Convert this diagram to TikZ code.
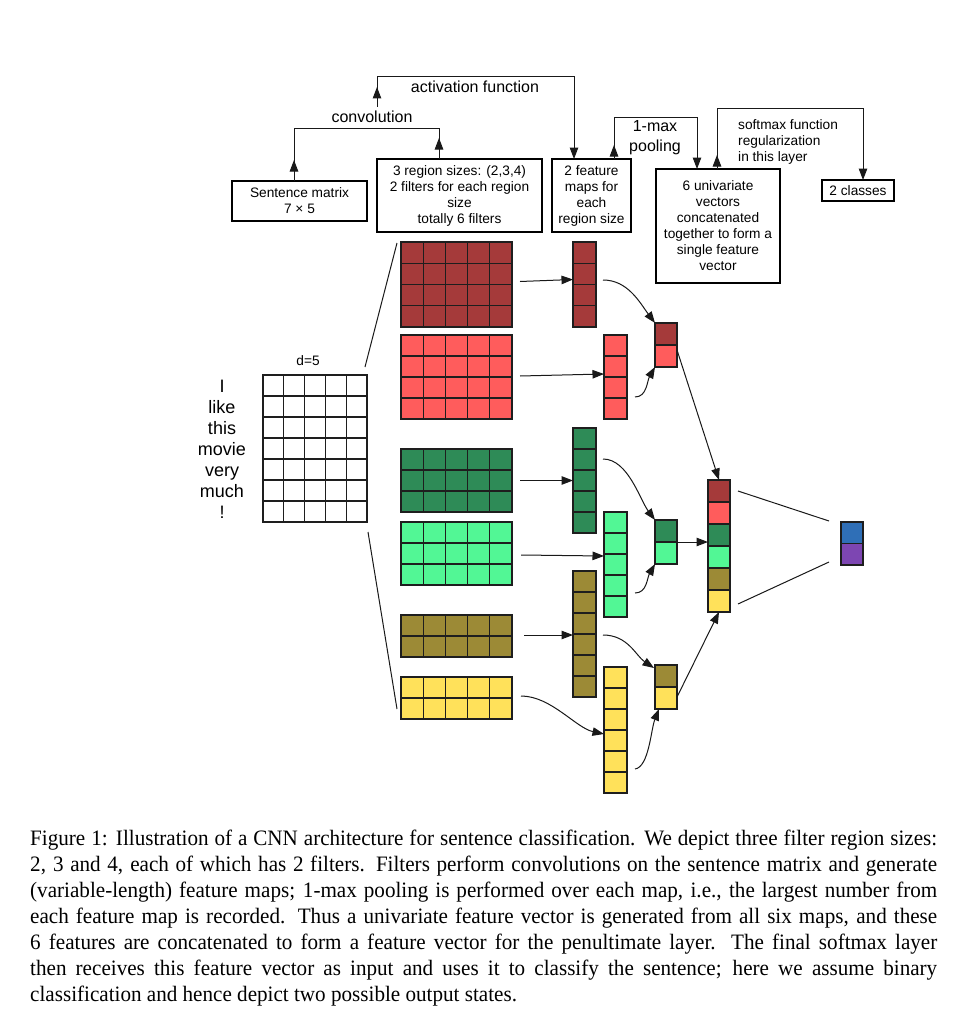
\documentclass[tikz,border=0pt]{standalone}
\usepackage{fontspec}
\setmainfont{Liberation Sans}
\newfontfamily\capfont[FakeStretch=0.96]{Liberation Serif}
\usetikzlibrary{arrows.meta,calc}
\definecolor{gridc}{HTML}{1E1E1E}
\definecolor{cdred}{HTML}{A53A3A}
\definecolor{cred}{HTML}{FF5C5C}
\definecolor{cdgreen}{HTML}{2E8B57}
\definecolor{clgreen}{HTML}{52F795}
\definecolor{colive}{HTML}{9C8A36}
\definecolor{cyellow}{HTML}{FFE15A}
\definecolor{cblue}{HTML}{2F6FB7}
\definecolor{cpurple}{HTML}{7D46B2}
\tikzset{
 cellbox/.style={draw=gridc, line width=1.3pt, inner sep=0pt, outer sep=0pt, anchor=north west},
 gline/.style={draw=gridc, line width=1.3pt},
 lbox/.style={draw=black, line width=1.1pt, inner sep=0pt, outer sep=0pt, align=center, font=\fontsize{13.7}{16}\selectfont},
 conn/.style={draw=black!90, line width=1pt},
 arr/.style={conn, -{Triangle[length=11.5pt,width=8.5pt]}},
 lbl/.style={inner sep=0pt, font=\fontsize{16}{20}\selectfont},
 capline/.style={inner sep=0pt, anchor=base west, font=\capfont\fontsize{22}{26}\selectfont},
}
\newcommand\cnnblock[8]{%
 \node[cellbox, fill=#8, minimum width={#4*#6pt}, minimum height={#5*#7pt}] (#1) at (#2,#3) {};
 \pgfmathtruncatemacro\ncm{#4-1}%
 \ifnum\ncm>0 \foreach \i in {1,...,\ncm}{\draw[gline] ($(#1.north west)+(\i*#6,0)$) -- ($(#1.south west)+(\i*#6,0)$);}\fi
 \pgfmathtruncatemacro\nrm{#5-1}%
 \ifnum\nrm>0 \foreach \j in {1,...,\nrm}{\draw[gline] ($(#1.north west)+(0,\j*#7)$) -- ($(#1.north east)+(0,\j*#7)$);}\fi
}
\begin{document}
\begin{tikzpicture}[x=1pt,y=-1pt]
\useasboundingbox (0,0) rectangle (978,1014);
\fill[white] (0,0) rectangle (978,1014);

% ---- top boxes
\node[lbox, minimum width=135pt, minimum height=40pt] (sent) at (299.5,201) {Sentence matrix\\7 × 5};
\node[lbox, minimum width=165pt, minimum height=73pt] (reg) at (459.5,195.5) {3 region sizes: (2,3,4)\\2 filters for each region\\size\\totally 6 filters};
\node[lbox, minimum width=79pt, minimum height=73pt] (feat) at (591.5,195.5) {2 feature\\maps for\\each\\region size};
\node[lbox, minimum width=124pt, minimum height=114pt] (univ) at (718,226) {6 univariate\\vectors\\concatenated\\together to form a\\single feature\\vector};
\node[lbox, minimum width=72pt, minimum height=21pt] (cls) at (858,190.5) {2 classes};

% ---- top connectors
\coordinate (cvL) at (294,129); \coordinate (cvR) at (439,129);
\draw[conn] (sent.north -| cvL) -- (cvL) -- (cvR) -- (reg.north -| cvR);
\draw[arr] (sent.north -| cvL) -- ++(0,-21);
\draw[arr] (reg.north -| cvR) -- ++(0,-21);
\node[lbl] (lconv) at (372,117) {convolution};

\coordinate (acB) at (377,107); \coordinate (acL) at (377,77); \coordinate (acR) at (574,77);
\draw[arr] (acB) -- (acL) -- (acR) -- (feat.north -| acR);
\draw[arr] (acB) -- ++(0,-20);
\node[lbl] (lact) at (475,87) {activation function};

\coordinate (mpL) at (614,118); \coordinate (mpR) at (697,118);
\draw[arr] (feat.north -| mpL) -- (mpL) -- (mpR) -- (univ.north -| mpR);
\draw[arr] (feat.north -| mpL) -- ++(0,-14);
\node[lbl, align=center] (lmax) at (655,138) {1-max\\pooling};

\coordinate (sfL) at (717,109); \coordinate (sfR) at (863,109);
\draw[arr] (univ.north -| sfL) -- (sfL) -- (sfR) -- (cls.north -| sfR);
\draw[arr] (univ.north -| sfL) -- ++(0,-14);
\node[inner sep=0pt, align=left, anchor=west, font=\fontsize{13.7}{16}\selectfont] (lsoft) at (738,142) {softmax function\\regularization\\in this layer};

% ---- sentence matrix
\node[inner sep=0pt, align=center, font=\fontsize{18}{20.9}\selectfont] (words) at (222,449.5) {I\\like\\this\\movie\\very\\much\\!};
\node[inner sep=0pt, font=\fontsize{13.7}{16}\selectfont] (dlab) at (308,361) {d=5};
\cnnblock{sm}{263}{375}{5}{7}{20.8}{21}{white}

% ---- filters
\cnnblock{f1}{401}{242}{5}{4}{22.2}{21.25}{cdred}
\cnnblock{f2}{401}{335}{5}{4}{22.2}{21}{cred}
\cnnblock{f3}{401}{449}{5}{3}{22.2}{21}{cdgreen}
\cnnblock{f4}{401}{522}{5}{3}{22.2}{21}{clgreen}
\cnnblock{f5}{401}{615}{5}{2}{22.2}{21}{colive}
\cnnblock{f6}{401}{677}{5}{2}{22.2}{21}{cyellow}

\draw[conn] ($(sm.north east)+(-2,-8)$) -- ($(f1.north west)+(-4,1)$);
\draw[conn] ($(sm.south east)+(1,10)$) -- ($(f6.south west)+(-4,-10)$);

% ---- feature maps
\cnnblock{m1}{573}{242}{1}{4}{23}{21.25}{cdred}
\cnnblock{m2}{604}{335}{1}{4}{23}{21}{cred}
\cnnblock{m3}{573}{428}{1}{5}{23}{21}{cdgreen}
\cnnblock{m4}{604}{512}{1}{5}{23}{21}{clgreen}
\cnnblock{m5}{573}{571}{1}{6}{23}{21}{colive}
\cnnblock{m6}{604}{667}{1}{6}{23}{21}{cyellow}

\draw[arr] ($(f1.east)+(8,-3)$) -- ($(m1.west)+(0,-5)$);
\draw[arr] ($(f2.east)+(8,-1)$) -- ($(m2.west)+(0,-3)$);
\draw[arr] ($(f3.east)+(8,0)$) -- (m3.west);
\draw[arr] ($(f4.east)+(9,1.5)$) -- ($(m4.west)+(0,-8.5)$);
\draw[arr] ($(f5.east)+(12,-1)$) -- ($(m5.west)+(0,1)$);
\draw[arr] ($(f6.east)+(9,-2)$) .. controls +(30,0) and +(-28,-6) .. ($(m6.west)+(0,4)$);

% ---- pooled
\node[cellbox, fill=cdred, minimum width=22pt, minimum height=22pt] (p1a) at (655,323) {};
\node[cellbox, fill=cred, minimum width=22pt, minimum height=22pt] (p1b) at (655,345) {};
\node[cellbox, fill=cdgreen, minimum width=22pt, minimum height=22pt] (p2a) at (655,520) {};
\node[cellbox, fill=clgreen, minimum width=22pt, minimum height=22pt] (p2b) at (655,542) {};
\node[cellbox, fill=colive, minimum width=22pt, minimum height=22pt] (p3a) at (655,665) {};
\node[cellbox, fill=cyellow, minimum width=22pt, minimum height=22pt] (p3b) at (655,687) {};

\draw[arr] ($(m1.east)+(7,-4.5)$) .. controls +(25,0) and +(-15,-20) .. (p1a.north west);
\draw[arr] ($(m2.east)+(8,20)$) .. controls +(12,0) and +(-8,14) .. (p1b.south west);
\draw[arr] ($(m3.east)+(7,-21.5)$) .. controls +(25,0) and +(-15,-20) .. (p2a.north west);
\draw[arr] ($(m4.east)+(8,28.5)$) .. controls +(12,0) and +(-8,14) .. (p2b.south west);
\draw[arr] ($(m5.east)+(7,1)$) .. controls +(25,0) and +(-18,-12) .. ($(p3a.west)+(-1,-8)$);
\draw[arr] ($(m6.east)+(8,39)$) .. controls +(14,-2) and +(-8,20) .. ($(p3b.south west)+(4,0)$);

% ---- concatenated vector
\node[cellbox, fill=cdred, minimum width=22pt, minimum height=22pt] (c1) at (708,480) {};
\node[cellbox, fill=cred, minimum width=22pt, minimum height=22pt] (c2) at (708,502) {};
\node[cellbox, fill=cdgreen, minimum width=22pt, minimum height=22pt] (c3) at (708,524) {};
\node[cellbox, fill=clgreen, minimum width=22pt, minimum height=22pt] (c4) at (708,546) {};
\node[cellbox, fill=colive, minimum width=22pt, minimum height=22pt] (c5) at (708,568) {};
\node[cellbox, fill=cyellow, minimum width=22pt, minimum height=22pt] (c6) at (708,590) {};

\draw[arr] ($(p1b.east)+(0,-6)$) -- (c1.north);
\draw[arr] (p2a.south east) -- (p2a.south east -| c3.west);
\draw[arr] ($(p3b.east)+(0,-1)$) -- (c6.south);

% ---- output
\node[cellbox, fill=cblue, minimum width=22pt, minimum height=21.5pt] (o1) at (841,522) {};
\node[cellbox, fill=cpurple, minimum width=22pt, minimum height=21.5pt] (o2) at (841,543.5) {};
\draw[conn] ($(c1.east)+(8,0)$) -- ($(o1.north west)+(-12,-1)$);
\draw[conn] ($(c6.east)+(8,3)$) -- ($(o2.south west)+(-12,-3)$);

% ---- caption
\node[capline] (cap1) at (30,845) {\makebox[907pt][s]{Figure 1: Illustration of a CNN architecture for sentence classification. We depict three filter region sizes:}};
\node[capline] (cap2) at (30,871) {\makebox[907pt][s]{2, 3 and 4, each of which has 2 filters. Filters perform convolutions on the sentence matrix and generate}};
\node[capline] (cap3) at (30,897) {\makebox[907pt][s]{(variable-length) feature maps; 1-max pooling is performed over each map, i.e., the largest number from}};
\node[capline] (cap4) at (30,923) {\makebox[907pt][s]{each feature map is recorded. Thus a univariate feature vector is generated from all six maps, and these}};
\node[capline] (cap5) at (30,949) {\makebox[907pt][s]{6 features are concatenated to form a feature vector for the penultimate layer. The final softmax layer}};
\node[capline] (cap6) at (30,975) {\makebox[907pt][s]{then receives this feature vector as input and uses it to classify the sentence; here we assume binary}};
\node[capline] (cap7) at (30,1001) {classification and hence depict two possible output states.};
\end{tikzpicture}
\end{document}
